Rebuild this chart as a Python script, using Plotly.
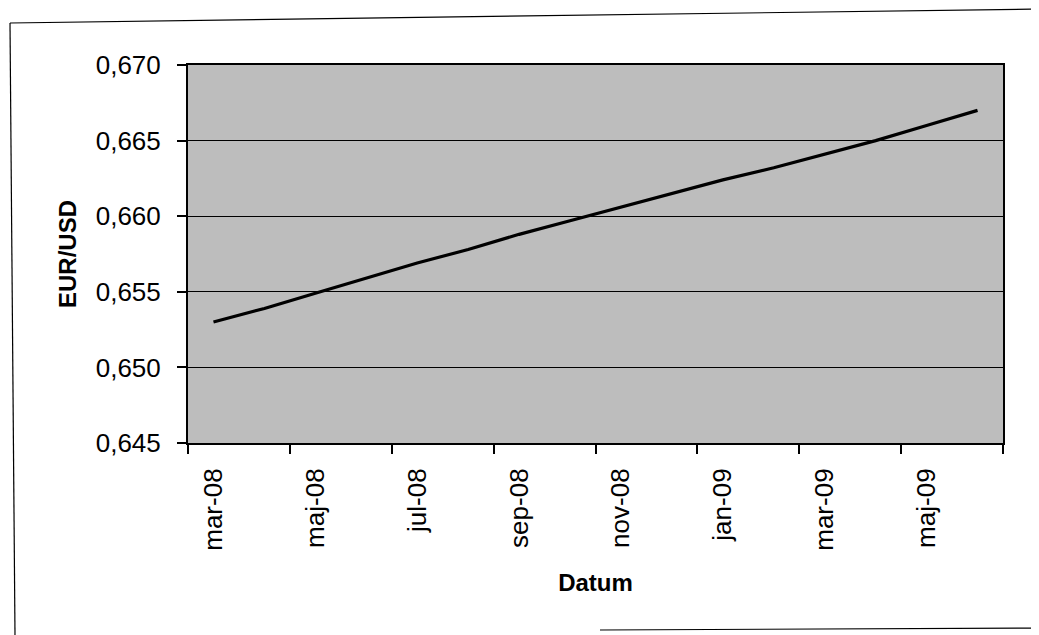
import plotly.graph_objects as go

# Data (monthly EUR/USD values)
months = ["mar-08", "apr-08", "maj-08", "jun-08", "jul-08", "aug-08", "sep-08", "okt-08",
          "nov-08", "dec-08", "jan-09", "feb-09", "mar-09", "apr-09", "maj-09", "jun-09"]
values = [0.6530, 0.6539, 0.6549, 0.6559, 0.6569, 0.6578, 0.6588, 0.6597,
          0.6606, 0.6615, 0.6624, 0.6632, 0.6641, 0.6650, 0.6660, 0.6670]
y_ticks = [0.645, 0.650, 0.655, 0.660, 0.665, 0.670]

idx = list(range(len(months)))
label_pos = idx[::2]
label_txt = months[::2]
boundaries = [i - 0.5 for i in idx[::2]] + [idx[-1] + 0.5]

# page has an 8px body margin: figure is drawn at (8,8)
OFF = 8
W, H = 1039 - OFF, 635 - OFF
L, R, T, B = 188 - OFF, 36, 65 - OFF, 192
pw, ph = W - L - R, H - T - B


def px(x):
    return (x - OFF - L) / pw


def py(y):
    return (H - B - (y - OFF)) / ph


fig = go.Figure()
fig.add_trace(go.Scatter(x=idx, y=values, mode="lines",
                         line=dict(color="black", width=3.2), showlegend=False))

font = "Liberation Sans, Arial, sans-serif"

fig.update_layout(
    width=W, height=H,
    margin=dict(l=L, r=R, t=T, b=B),
    paper_bgcolor="white",
    plot_bgcolor="#bdbdbd",
    separators=",.",
    font=dict(family=font, color="black", size=26),
    xaxis=dict(
        range=[-0.5, len(months) - 0.5],
        tickmode="array", tickvals=label_pos, ticktext=label_txt,
        tickangle=-90,
        ticks="outside", ticklen=8, tickcolor="rgba(0,0,0,0)",
        ticklabelstandoff=5,
        minor=dict(tickmode="array", tickvals=boundaries, ticks="outside",
                   ticklen=9, tickwidth=1.5, tickcolor="black", showgrid=False),
        showgrid=False, zeroline=False,
        showline=True, linecolor="black", linewidth=2, mirror=True,
        tickfont=dict(size=26),
        title=dict(text="<b>Datum</b>", font=dict(size=24), standoff=24),
    ),
    yaxis=dict(
        range=[0.645, 0.670],
        tickmode="array", tickvals=y_ticks, tickformat=".3f",
        ticks="outside", ticklen=9, tickwidth=1.5, tickcolor="black",
        ticklabelstandoff=11,
        showgrid=True, gridcolor="black", gridwidth=1,
        zeroline=False,
        showline=True, linecolor="black", linewidth=2, mirror=True,
        tickfont=dict(size=26),
        title=dict(text="<b>EUR/USD</b>", font=dict(size=24), standoff=12),
    ),
    shapes=[
        dict(type="line", xref="paper", yref="paper", x0=px(10), y0=py(23), x1=px(1039), y1=py(9),
             line=dict(color="black", width=1.2)),
        dict(type="line", xref="paper", yref="paper", x0=px(10), y0=py(23), x1=px(15), y1=py(635),
             line=dict(color="black", width=1.2)),
        dict(type="line", xref="paper", yref="paper", x0=px(600), y0=py(630), x1=px(1039), y1=py(628),
             line=dict(color="black", width=1.2)),
    ],
)

fig.write_html("out.html")
